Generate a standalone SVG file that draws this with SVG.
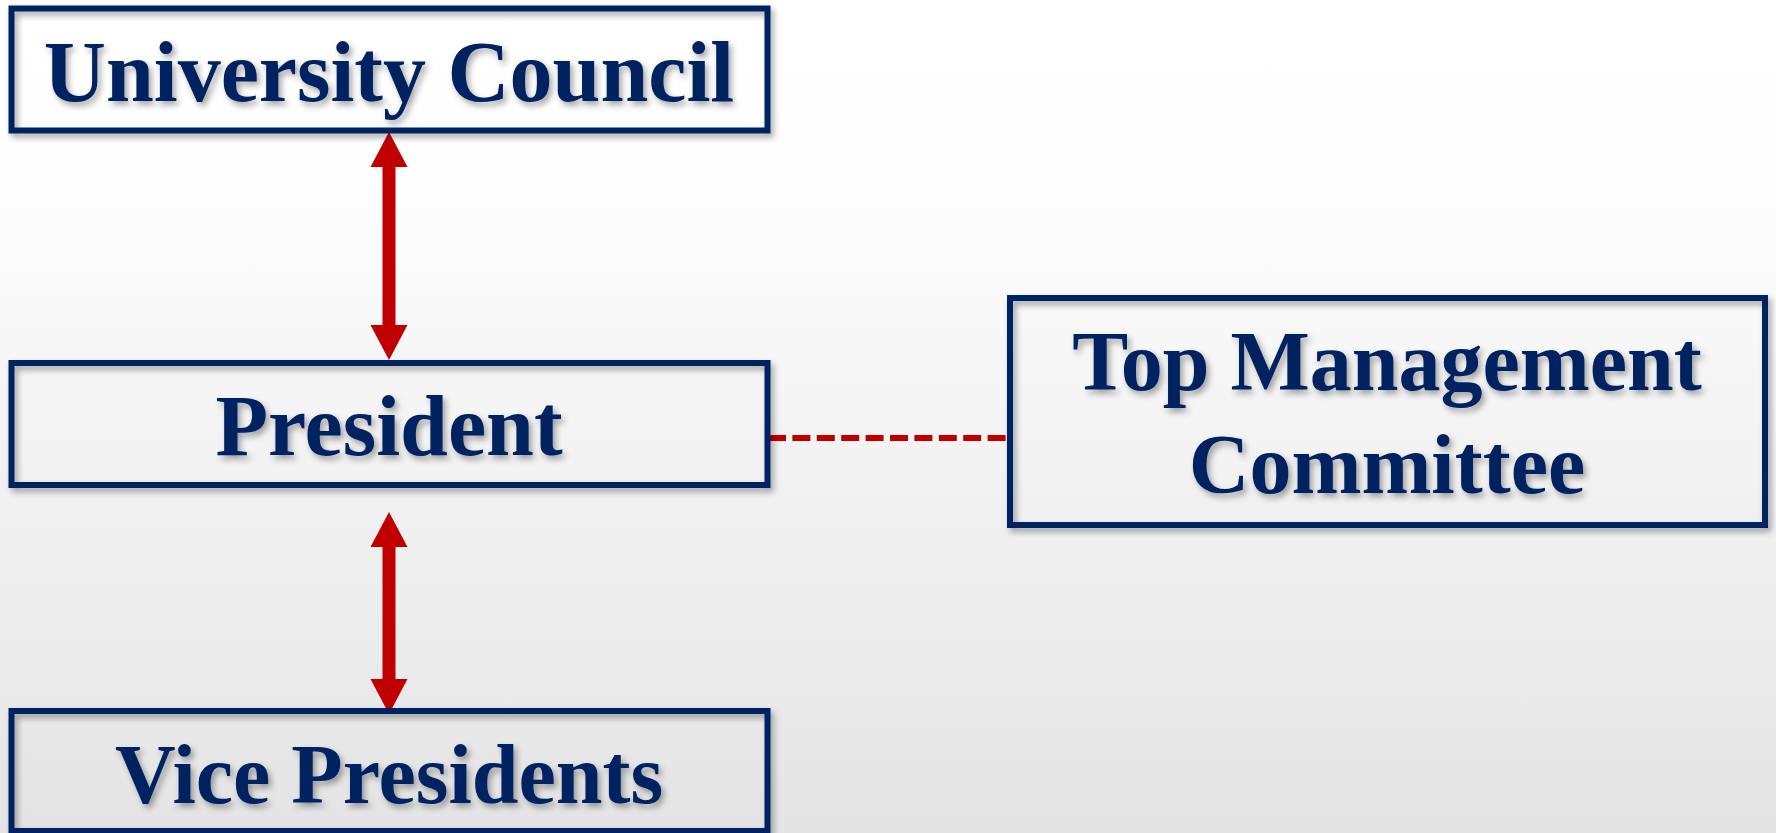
<svg xmlns="http://www.w3.org/2000/svg" width="1776" height="833" viewBox="0 0 1776 833">
  <defs>
    <linearGradient id="bg" x1="0" y1="0" x2="0" y2="1">
      <stop offset="0" stop-color="#ffffff"/>
      <stop offset="0.2" stop-color="#fefefe"/>
      <stop offset="1" stop-color="#e4e4e4"/>
    </linearGradient>
    <filter id="shadow" x="-10%" y="-20%" width="130%" height="150%">
      <feDropShadow dx="3" dy="4" stdDeviation="3" flood-color="#000000" flood-opacity="0.35"/>
    </filter>
    <marker id="head" viewBox="-1 -19 36 38" refX="0" refY="0" markerWidth="36" markerHeight="38" markerUnits="userSpaceOnUse" orient="auto-start-reverse">
      <path d="M-1,-18.5 L34,0 L-1,18.5 z" fill="#c00000"/>
    </marker>
  </defs>
  <style>
    .box { fill: none; stroke: #002060; stroke-width: 6; filter: url(#shadow); }
    .label { font-family: "Liberation Serif", "Times New Roman", serif; font-weight: bold; font-size: 86px; fill: #002060; text-anchor: middle; filter: url(#shadow); }
    .arrow { stroke: #c00000; stroke-width: 13; fill: none; marker-start: url(#head); marker-end: url(#head); }
    .dash { stroke: #c00000; stroke-width: 6; stroke-dasharray: 18 6.4; fill: none; }
  </style>
  <rect x="0" y="0" width="1776" height="833" fill="url(#bg)"/>

  <g id="connectors">
    <line class="arrow" x1="389" y1="166" x2="389" y2="326"/>
    <line class="arrow" x1="389" y1="546" x2="389" y2="680"/>
    <line class="dash" x1="768" y1="438" x2="1008" y2="438"/>
  </g>

  <g id="university-council">
    <rect class="box" x="11.5" y="8.5" width="756" height="122"/>
    <text class="label" x="389" y="101">University Council</text>
  </g>

  <g id="president">
    <rect class="box" x="11.5" y="363" width="756" height="122"/>
    <text class="label" x="389" y="455">President</text>
  </g>

  <g id="vice-presidents">
    <rect class="box" x="11.5" y="711" width="756" height="120"/>
    <text class="label" x="389" y="803" style="font-size:84px">Vice Presidents</text>
  </g>

  <g id="top-management-committee">
    <rect class="box" x="1010" y="298" width="755" height="227"/>
    <text class="label" x="1387" y="390" style="font-size:84px">Top Management</text>
    <text class="label" x="1387" y="493" style="font-size:84px">Committee</text>
  </g>
</svg>
